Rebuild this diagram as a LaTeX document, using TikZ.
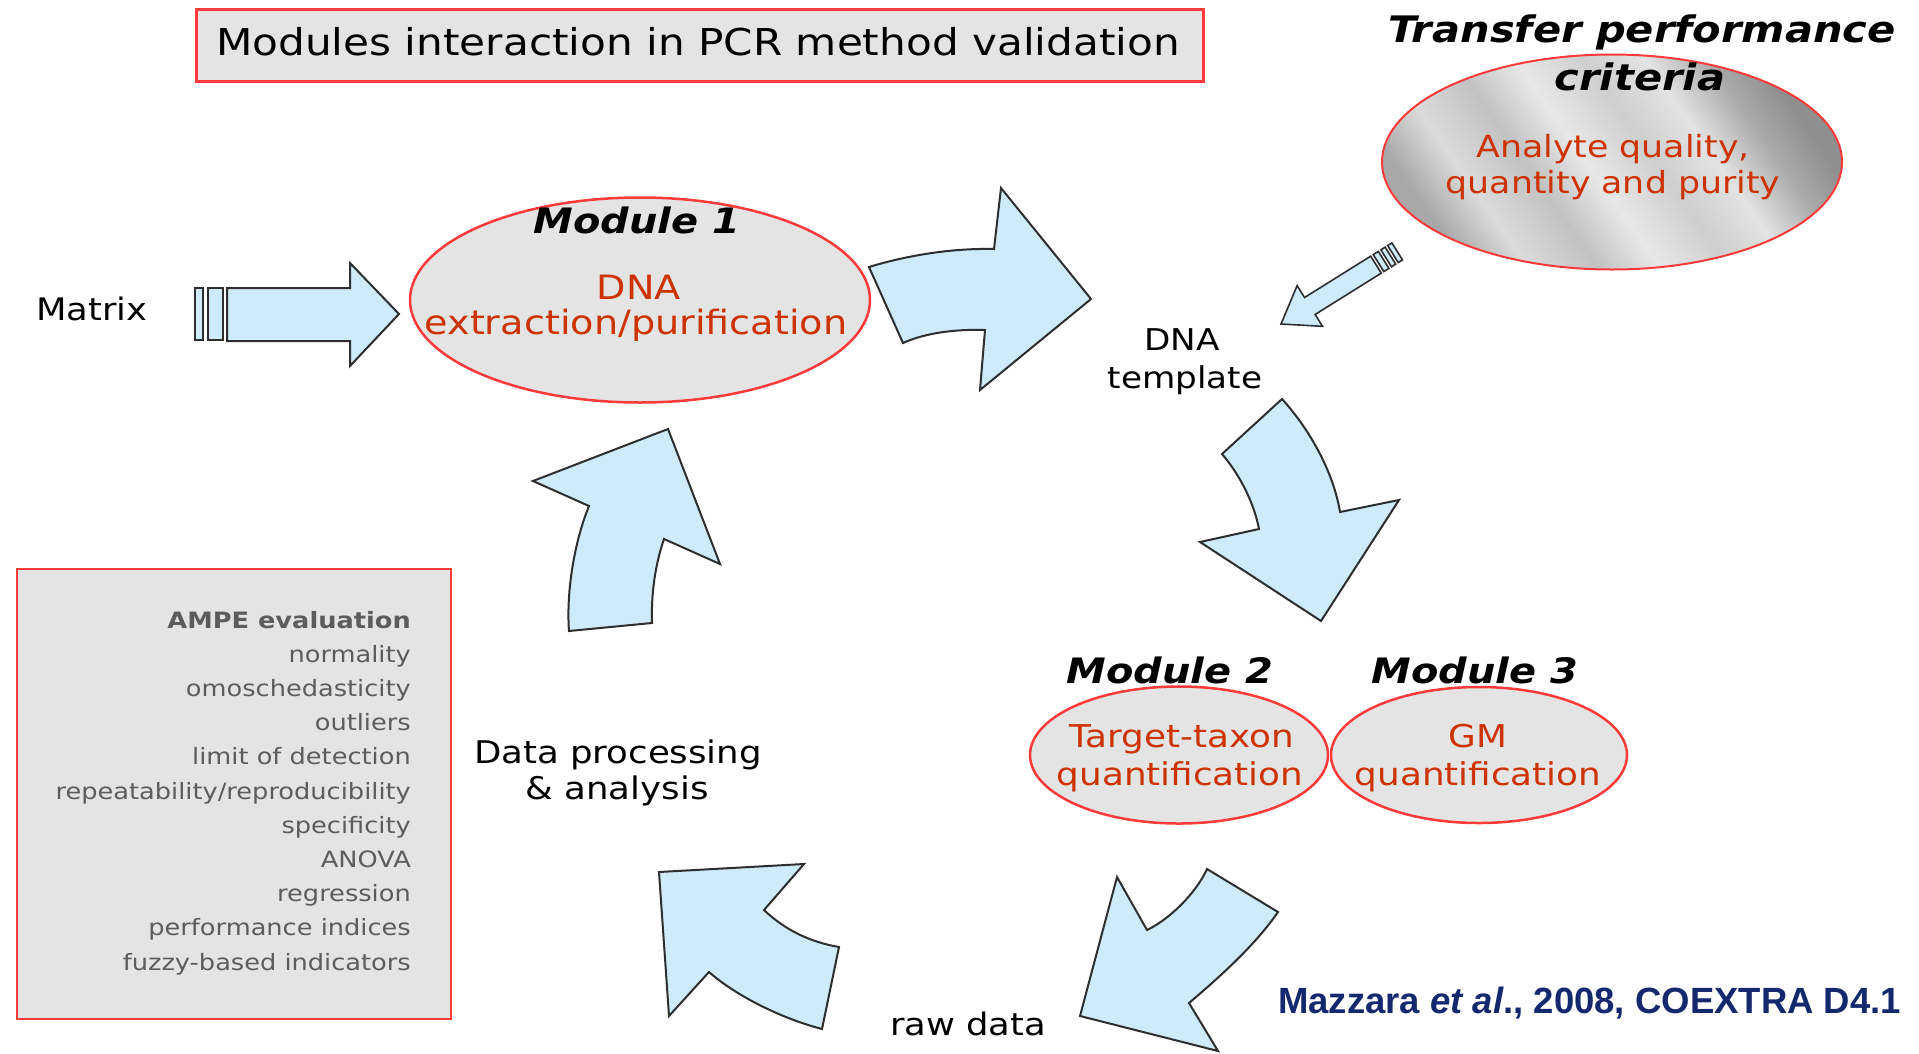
\documentclass[tikz,border=0pt]{standalone}
\usepackage{fontspec}
\setmainfont{DejaVu Sans}[FakeStretch=1.14,
  ItalicFont=DejaVu Sans Oblique,
  BoldFont=DejaVu Sans Bold,
  BoldItalicFont=DejaVu Sans Bold Oblique]
\newfontfamily\citefont{Liberation Sans}
\usetikzlibrary{shapes.geometric}

\definecolor{arrowfill}{HTML}{CDEBFB}
\definecolor{arrowline}{HTML}{2E2E2E}
\definecolor{boxred}{HTML}{FF3A3A}
\definecolor{panelgrey}{HTML}{E4E4E4}
\definecolor{labelred}{HTML}{CC3300}
\definecolor{citeblue}{HTML}{14286E}
\definecolor{listgrey}{HTML}{5C5C5C}

% diagonal grey bands for the criteria ellipse
\pgfdeclarehorizontalshading{bandgrey}{100bp}{%
  color(0bp)=(black!36); color(25bp)=(black!34); color(32bp)=(black!14);
  color(40bp)=(black!24); color(47bp)=(black!9); color(55bp)=(black!19);
  color(62bp)=(black!11); color(69bp)=(black!33); color(75bp)=(black!44);
  color(100bp)=(black!44)}

\tikzset{
  bigarrow/.style={fill=arrowfill, draw=arrowline, line width=2pt, line join=miter},
  smallarrow/.style={fill=arrowfill, draw=arrowline, line width=1.6pt, line join=miter},
  panel/.style={draw=boxred, fill=panelgrey, line width=2.5pt, inner sep=0pt},
  module/.style={ellipse, draw=boxred, fill=panelgrey, line width=2.5pt, inner sep=0pt},
  txt/.style={inner sep=0pt, anchor=base},
  titletxt/.style={txt, font=\fontsize{37}{44}\selectfont},
  headtxt/.style={txt, font=\fontsize{35}{42}\selectfont\bfseries\itshape},
  crittxt/.style={txt, font=\fontsize{36.5}{44}\selectfont\bfseries\itshape},
  redtxt/.style={txt, text=labelred, font=\fontsize{#1}{38}\selectfont},
  blacktxt/.style={txt, font=\fontsize{#1}{38}\selectfont},
  listtxt/.style={inner sep=0pt, anchor=base east, text=listgrey, font=\fontsize{22.5}{28}\selectfont},
}

\begin{document}
\begin{tikzpicture}[x=1pt, y=-1pt]
\useasboundingbox (0,0) rectangle (1919,1053);
\fill[white] (0,0) rectangle (1919,1053);

% heading
\node (titlebox) [panel, anchor=north west, minimum width=1007pt, minimum height=72pt] at (195,8) {};
\node (title) [titletxt] at (698,55) {Modules interaction in PCR method validation};

% transfer performance criteria
\node (crit) [ellipse, draw=boxred, line width=2pt, shading=bandgrey, shading angle=35,
  minimum width=460pt, minimum height=215pt, inner sep=0pt] at (1612,162) {};
\node (crit1) [crittxt] at (1642,42) {Transfer performance};
\node (crit2) [crittxt] at (1640,90) {criteria};
\node (ana1) [redtxt=30.5] at (1613,157) {Analyte quality,};
\node (ana2) [redtxt=30.5] at (1613,193) {quantity and purity};

% module 1
\node (m1) [module, minimum width=460pt, minimum height=205pt] at (640,300) {};
\node (m1head) [headtxt] at (637,233) {Module 1};
\node (m1a) [redtxt=33.5] at (639,299) {DNA};
\node (m1b) [redtxt=33.5] at (636,334) {extraction/purification};

% modules 2 and 3
\node (m2) [module, minimum width=298pt, minimum height=137pt] at (1179,755) {};
\node (m3) [module, minimum width=296pt, minimum height=136pt] at (1479,755) {};
\node (m2head) [headtxt] at (1170,683) {Module 2};
\node (m3head) [headtxt] at (1475,683) {Module 3};
\node (m2a) [redtxt=31.4] at (1182,747) {Target-taxon};
\node (m2b) [redtxt=31.4] at (1180,785) {quantification};
\node (m3a) [redtxt=31.4] at (1478,747) {GM};
\node (m3b) [redtxt=31.4] at (1478,785) {quantification};

% free labels
\node (matrix) [blacktxt=31] at (92,320) {Matrix};
\node (tmpl1) [blacktxt=30] at (1182,350) {DNA};
\node (tmpl2) [blacktxt=30] at (1185,388) {template};
\node (proc1) [blacktxt=31.2] at (618,763) {Data processing};
\node (proc2) [blacktxt=31.2] at (617,799) {\& analysis};
\node (raw) [blacktxt=31] at (968,1035) {raw data};

% AMPE evaluation panel
\node (ampe) [panel, line width=2pt, anchor=north west, minimum width=434pt, minimum height=450pt] at (16,568) {};
\node (ampe0) [listtxt, font=\fontsize{22.5}{28}\selectfont\bfseries] at (411,628) {AMPE evaluation};
\foreach \t [count=\i] in {normality, omoschedasticity, outliers, limit of detection,
  repeatability/reproducibility, specificity, ANOVA, regression,
  performance indices, fuzzy-based indicators}
  \node (ampe\i) [listtxt] at (411,628+34.2*\i) {\t};

% citation
\node (cite) [inner sep=0pt, anchor=base west, text=citeblue,
  font=\citefont\fontsize{36.5}{42}\selectfont\bfseries] at (1278,1013)
  {Mazzara \textit{et al}., 2008, COEXTRA D4.1};

% matrix input arrow
\draw[bigarrow] (195,288) rectangle (203,340);
\draw[bigarrow] (208,288) rectangle (223,340);
\draw[bigarrow] (227,288) -- (350,288) -- (350,263) -- (399,314) -- (350,366)
  -- (350,341) -- (227,341) -- cycle;

% module 1 -> DNA template
\draw[bigarrow] (869,267) .. controls (905,256) and (950,248) .. (994,249)
  -- (1001,188) -- (1091,299) -- (980,390) -- (985,330)
  .. controls (955,329) and (925,333) .. (903,343) -- cycle;

% DNA template -> modules 2/3
\draw[bigarrow] (1282,399) -- (1222,454)
  .. controls (1240,475) and (1254,503) .. (1259,529)
  -- (1200,542) -- (1321,621) -- (1399,500) -- (1340,512)
  .. controls (1334,475) and (1312,432) .. (1282,399) -- cycle;

% modules 2/3 -> raw data
\draw[bigarrow] (1117,877) -- (1147,930)
  .. controls (1168,920) and (1195,895) .. (1207,869)
  -- (1278,912) .. controls (1256,944) and (1222,975) .. (1189,1003)
  -- (1218,1051) -- (1080,1016) -- cycle;

% raw data -> data processing
\draw[bigarrow] (659,872) -- (804,864) -- (764,910)
  .. controls (785,930) and (810,942) .. (839,947)
  -- (822,1029) .. controls (780,1018) and (735,995) .. (709,972)
  -- (669,1016) -- cycle;

% data processing -> module 1
\draw[bigarrow] (569,631) -- (652,623)
  .. controls (651,595) and (655,565) .. (664,539)
  -- (720,564) -- (668,429) -- (533,481) -- (589,506)
  .. controls (575,540) and (566,590) .. (569,631) -- cycle;

% criteria -> DNA template (striped arrow)
\begin{scope}[shift={(1281,324)}, rotate=32]
  \draw[smallarrow] (0,0) -- (34,24) -- (34,10) -- (112,10) -- (112,-10)
    -- (34,-10) -- (34,-24) -- cycle;
  \draw[smallarrow] (115,-10) rectangle (121,10);
  \draw[smallarrow] (124,-10) rectangle (129,10);
  \draw[smallarrow] (132,-10) rectangle (137,10);
\end{scope}
\end{tikzpicture}
\end{document}
